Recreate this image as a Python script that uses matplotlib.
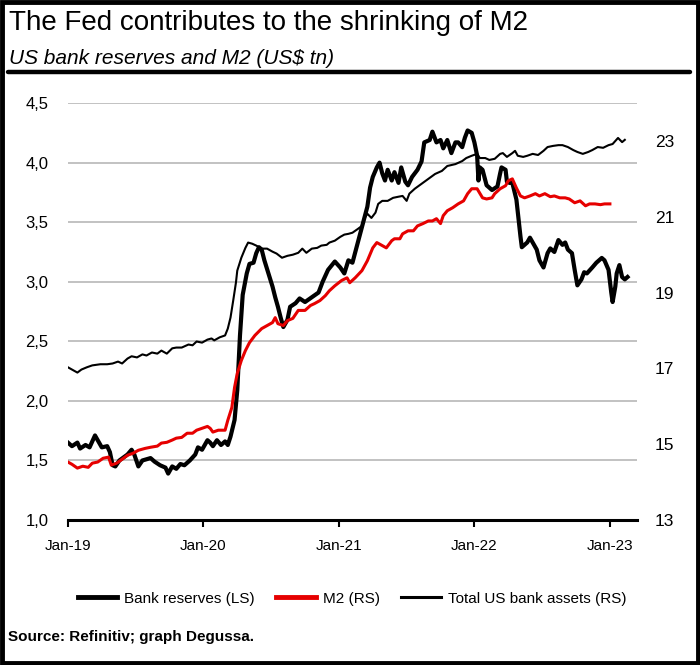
import matplotlib
matplotlib.use("Agg")
import matplotlib.pyplot as plt
from matplotlib.lines import Line2D
from matplotlib.patches import Rectangle

plt.rcParams['font.family'] = ['Liberation Sans', 'DejaVu Sans']

# Bank reserves (LS), US$ tn -- dates as decimal years
br_t = [2019.00, 2019.03, 2019.07, 2019.09, 2019.13, 2019.16, 2019.20, 2019.22, 2019.25, 2019.29,
        2019.31, 2019.33, 2019.35, 2019.38, 2019.44, 2019.47, 2019.49, 2019.52, 2019.55, 2019.61,
        2019.64, 2019.68, 2019.72, 2019.74, 2019.77, 2019.80, 2019.83, 2019.86, 2019.90, 2019.94,
        2019.96, 2019.99, 2020.03, 2020.05, 2020.07, 2020.10, 2020.13, 2020.16, 2020.18, 2020.20,
        2020.23, 2020.25, 2020.27, 2020.29, 2020.32, 2020.34, 2020.37, 2020.39, 2020.41, 2020.43,
        2020.45, 2020.48, 2020.51, 2020.53, 2020.55, 2020.57, 2020.59, 2020.62, 2020.64, 2020.68,
        2020.71, 2020.75, 2020.80, 2020.85, 2020.88, 2020.92, 2020.97, 2021.01, 2021.04, 2021.07,
        2021.10, 2021.14, 2021.17, 2021.21, 2021.23, 2021.25, 2021.28, 2021.30, 2021.32, 2021.34,
        2021.36, 2021.39, 2021.41, 2021.44, 2021.46, 2021.49, 2021.51, 2021.54, 2021.58, 2021.61,
        2021.63, 2021.67, 2021.69, 2021.72, 2021.75, 2021.77, 2021.80, 2021.83, 2021.86, 2021.88,
        2021.91, 2021.93, 2021.95, 2021.98, 2022.00, 2022.02, 2022.03, 2022.04, 2022.06, 2022.09,
        2022.13, 2022.17, 2022.19, 2022.20, 2022.23, 2022.24, 2022.26, 2022.28, 2022.31, 2022.34,
        2022.35, 2022.39, 2022.41, 2022.43, 2022.46, 2022.48, 2022.51, 2022.54, 2022.56, 2022.59,
        2022.62, 2022.65, 2022.67, 2022.69, 2022.72, 2022.74, 2022.76, 2022.79, 2022.81, 2022.83,
        2022.87, 2022.90, 2022.94, 2022.96, 2022.99, 2023.01, 2023.02, 2023.04, 2023.05, 2023.07,
        2023.09, 2023.11, 2023.13]
br_v = [1.65, 1.62, 1.65, 1.60, 1.63, 1.61, 1.71, 1.67, 1.61, 1.62,
        1.57, 1.46, 1.45, 1.50, 1.55, 1.59, 1.55, 1.45, 1.50, 1.52,
        1.49, 1.46, 1.44, 1.39, 1.45, 1.43, 1.47, 1.46, 1.50, 1.55,
        1.61, 1.59, 1.67, 1.65, 1.62, 1.67, 1.63, 1.66, 1.63, 1.70,
        1.84, 2.09, 2.55, 2.89, 3.07, 3.15, 3.16, 3.24, 3.29, 3.27,
        3.18, 3.07, 2.96, 2.87, 2.79, 2.70, 2.62, 2.68, 2.79, 2.82,
        2.86, 2.83, 2.87, 2.91, 3.00, 3.10, 3.17, 3.12, 3.07, 3.18,
        3.16, 3.33, 3.46, 3.63, 3.79, 3.88, 3.96, 4.00, 3.91, 3.85,
        3.94, 3.85, 3.92, 3.83, 3.96, 3.84, 3.81, 3.88, 3.94, 4.01,
        4.17, 4.19, 4.26, 4.17, 4.19, 4.12, 4.19, 4.08, 4.17, 4.17,
        4.13, 4.21, 4.27, 4.25, 4.17, 4.06, 3.85, 3.96, 3.94, 3.81,
        3.77, 3.80, 3.91, 3.96, 3.94, 3.84, 3.83, 3.83, 3.69, 3.38,
        3.29, 3.33, 3.37, 3.33, 3.27, 3.18, 3.12, 3.24, 3.28, 3.25,
        3.35, 3.31, 3.33, 3.27, 3.24, 3.10, 2.97, 3.02, 3.08, 3.07,
        3.12, 3.16, 3.20, 3.18, 3.10, 2.91, 2.83, 2.96, 3.07, 3.14,
        3.04, 3.02, 3.04]

# M2 (RS), US$ tn
m2_t = [2019.00, 2019.03, 2019.07, 2019.11, 2019.15, 2019.18, 2019.22, 2019.26, 2019.30, 2019.32,
        2019.36, 2019.41, 2019.44, 2019.48, 2019.52, 2019.57, 2019.61, 2019.66, 2019.69, 2019.73,
        2019.77, 2019.80, 2019.84, 2019.88, 2019.92, 2019.95, 2019.99, 2020.03, 2020.05, 2020.07,
        2020.11, 2020.16, 2020.18, 2020.21, 2020.23, 2020.25, 2020.28, 2020.31, 2020.34, 2020.38,
        2020.43, 2020.47, 2020.51, 2020.53, 2020.55, 2020.59, 2020.62, 2020.66, 2020.70, 2020.75,
        2020.79, 2020.82, 2020.86, 2020.90, 2020.93, 2020.97, 2021.02, 2021.06, 2021.08, 2021.12,
        2021.17, 2021.21, 2021.25, 2021.28, 2021.32, 2021.35, 2021.39, 2021.41, 2021.45, 2021.47,
        2021.51, 2021.55, 2021.58, 2021.62, 2021.66, 2021.69, 2021.72, 2021.75, 2021.77, 2021.80,
        2021.84, 2021.88, 2021.92, 2021.95, 2021.98, 2022.02, 2022.06, 2022.09, 2022.13, 2022.15,
        2022.19, 2022.23, 2022.25, 2022.28, 2022.31, 2022.34, 2022.37, 2022.41, 2022.45, 2022.48,
        2022.52, 2022.56, 2022.59, 2022.63, 2022.67, 2022.70, 2022.74, 2022.78, 2022.82, 2022.85,
        2022.89, 2022.93, 2022.96, 2023.00]
m2_v = [14.53, 14.47, 14.37, 14.42, 14.39, 14.50, 14.53, 14.63, 14.66, 14.45,
        14.50, 14.63, 14.71, 14.76, 14.84, 14.89, 14.92, 14.95, 15.03, 15.05,
        15.11, 15.16, 15.18, 15.29, 15.29, 15.37, 15.42, 15.47, 15.42, 15.32,
        15.37, 15.37, 15.63, 15.97, 16.50, 16.87, 17.21, 17.47, 17.68, 17.87,
        18.05, 18.13, 18.21, 18.34, 18.18, 18.13, 18.26, 18.32, 18.53, 18.53,
        18.66, 18.71, 18.79, 18.92, 19.05, 19.18, 19.32, 19.39, 19.26, 19.39,
        19.58, 19.84, 20.18, 20.32, 20.24, 20.18, 20.37, 20.42, 20.42, 20.55,
        20.63, 20.63, 20.76, 20.82, 20.89, 20.89, 20.95, 20.82, 21.03, 21.16,
        21.24, 21.34, 21.42, 21.61, 21.74, 21.74, 21.50, 21.47, 21.50, 21.61,
        21.74, 21.82, 21.95, 22.00, 21.76, 21.55, 21.50, 21.55, 21.61, 21.55,
        21.61, 21.53, 21.55, 21.50, 21.50, 21.47, 21.37, 21.42, 21.29, 21.34,
        21.34, 21.32, 21.34, 21.34]

# Total US bank assets (RS), US$ tn
ta_t = [2019.00, 2019.03, 2019.07, 2019.10, 2019.14, 2019.18, 2019.24, 2019.29, 2019.33, 2019.37,
        2019.40, 2019.44, 2019.47, 2019.51, 2019.55, 2019.58, 2019.62, 2019.66, 2019.69, 2019.73,
        2019.77, 2019.80, 2019.84, 2019.89, 2019.92, 2019.95, 2019.99, 2020.03, 2020.06, 2020.08,
        2020.12, 2020.16, 2020.18, 2020.20, 2020.22, 2020.24, 2020.25, 2020.28, 2020.31, 2020.33,
        2020.36, 2020.39, 2020.43, 2020.47, 2020.51, 2020.54, 2020.58, 2020.62, 2020.66, 2020.70,
        2020.73, 2020.76, 2020.80, 2020.84, 2020.87, 2020.91, 2020.93, 2020.97, 2021.01, 2021.04,
        2021.07, 2021.10, 2021.14, 2021.17, 2021.19, 2021.21, 2021.24, 2021.27, 2021.29, 2021.32,
        2021.36, 2021.40, 2021.44, 2021.47, 2021.50, 2021.52, 2021.56, 2021.61, 2021.66, 2021.71,
        2021.76, 2021.80, 2021.86, 2021.91, 2021.94, 2021.98, 2022.02, 2022.04, 2022.08, 2022.11,
        2022.15, 2022.19, 2022.21, 2022.24, 2022.28, 2022.30, 2022.32, 2022.36, 2022.39, 2022.43,
        2022.47, 2022.51, 2022.54, 2022.58, 2022.62, 2022.65, 2022.69, 2022.73, 2022.76, 2022.80,
        2022.84, 2022.87, 2022.91, 2022.95, 2022.99, 2023.02, 2023.06, 2023.09, 2023.11]
ta_v = [17.03, 16.97, 16.89, 16.97, 17.03, 17.08, 17.11, 17.11, 17.13, 17.18,
        17.13, 17.26, 17.32, 17.29, 17.37, 17.34, 17.42, 17.39, 17.47, 17.39,
        17.53, 17.55, 17.55, 17.63, 17.61, 17.71, 17.68, 17.76, 17.79, 17.74,
        17.82, 17.87, 18.05, 18.34, 18.79, 19.26, 19.58, 19.92, 20.18, 20.32,
        20.29, 20.24, 20.16, 20.16, 20.08, 20.03, 19.92, 19.97, 20.00, 20.05,
        20.16, 20.05, 20.16, 20.18, 20.24, 20.26, 20.32, 20.37, 20.47, 20.53,
        20.55, 20.58, 20.68, 20.76, 20.97, 21.08, 20.97, 21.11, 21.34, 21.42,
        21.42, 21.50, 21.53, 21.55, 21.42, 21.61, 21.74, 21.87, 22.00, 22.13,
        22.21, 22.34, 22.39, 22.47, 22.55, 22.61, 22.66, 22.55, 22.55, 22.50,
        22.53, 22.66, 22.68, 22.58, 22.68, 22.74, 22.61, 22.58, 22.61, 22.66,
        22.63, 22.74, 22.84, 22.87, 22.89, 22.89, 22.84, 22.76, 22.71, 22.66,
        22.71, 22.76, 22.84, 22.82, 22.89, 22.92, 23.08, 22.97, 23.03]

x_ticks = [2019, 2020, 2021, 2022, 2023]
x_labels = ["Jan-19", "Jan-20", "Jan-21", "Jan-22", "Jan-23"]
left_ticks = [1.0, 1.5, 2.0, 2.5, 3.0, 3.5, 4.0, 4.5]
right_ticks = [13, 15, 17, 19, 21, 23]

RED = "#e60000"

fig = plt.figure(figsize=(7.0, 6.65), dpi=100)
ax = fig.add_axes([0.097, 0.218, 0.813, 0.627])
ax2 = ax.twinx()

ax.plot(br_t, br_v, color="black", lw=3.0, solid_joinstyle="round", zorder=3)
ax2.plot(ta_t, ta_v, color="black", lw=1.5, zorder=3)
ax2.plot(m2_t, m2_v, color=RED, lw=2.2, zorder=4)

ax.set_xlim(2019.0, 2023.2)
ax.set_ylim(1.0, 4.5)
ax2.set_ylim(13, 24)

ax.set_yticks(left_ticks)
ax.set_yticklabels([f"{v:.1f}".replace(".", ",") for v in left_ticks])
ax2.set_yticks(right_ticks)
ax2.set_yticklabels([str(v) for v in right_ticks])
ax.set_xticks(x_ticks)
ax.set_xticklabels(x_labels)

ax.grid(axis="y", color="#bdbdbd", lw=1.3)
ax.set_axisbelow(True)
for a in (ax, ax2):
    for s in ("top", "left", "right"):
        a.spines[s].set_visible(False)
ax.spines["bottom"].set_linewidth(2.2)
ax2.spines["bottom"].set_visible(False)

ax.tick_params(axis="y", length=0, pad=14, labelsize=12)
ax2.tick_params(axis="y", length=0, pad=13, labelsize=12.5)
ax.tick_params(axis="x", length=5, width=1.5, direction="out", pad=9, labelsize=11)

handles = [Line2D([], [], color="black", lw=3.5),
           Line2D([], [], color=RED, lw=3.5),
           Line2D([], [], color="black", lw=2.2)]
fig.legend(handles, ["Bank reserves (LS)", "M2 (RS)", "Total US bank assets (RS)"],
           loc="center", bbox_to_anchor=(0.503, 0.100), ncol=3, frameon=False,
           fontsize=11, handlelength=2.6, handletextpad=0.45, columnspacing=1.4)

fig.text(0.013, 0.965, "The Fed contributes to the shrinking of M2", fontsize=20,
         ha="left", va="center")
fig.text(0.013, 0.912, "US bank reserves and M2 (US$ tn)", fontsize=15, style="italic",
         ha="left", va="center")
fig.add_artist(Line2D([0.011, 0.985], [0.891, 0.891], color="black", lw=3.2,
                      solid_capstyle="round", transform=fig.transFigure))
fig.text(0.011, 0.042, "Source: Refinitiv; graph Degussa.", fontsize=11,
         fontweight="bold", ha="left", va="center")

fig.add_artist(Rectangle((0.003, 0.003), 0.994, 0.994, transform=fig.transFigure,
                         fill=False, edgecolor="black", lw=3.5))

fig.savefig("out.png", dpi=100)
